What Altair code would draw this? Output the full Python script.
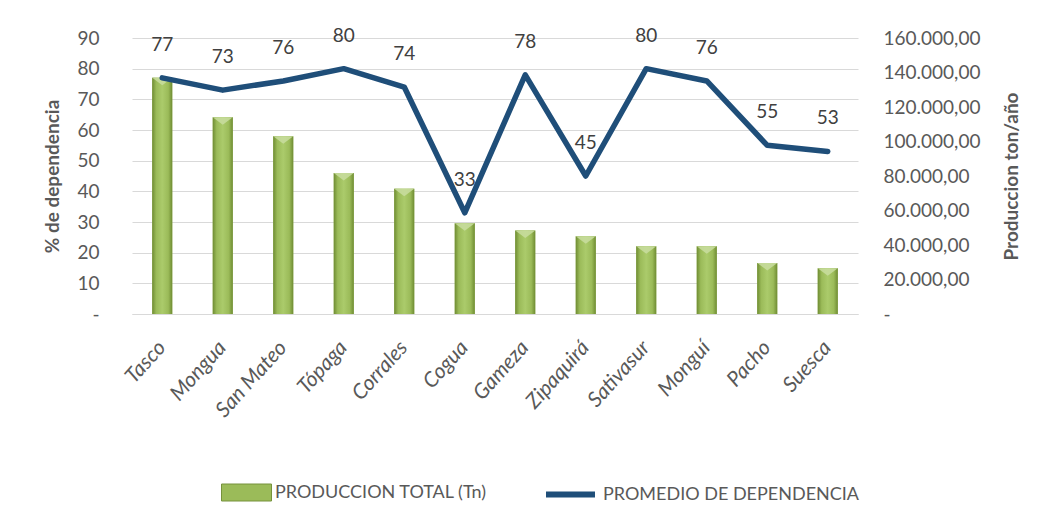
import altair as alt
import pandas as pd

municipios = ["Tasco", "Mongua", "San Mateo", "Tópaga", "Corrales", "Cogua",
              "Gameza", "Zipaquirá", "Sativasur", "Monguí", "Pacho", "Suesca"]
produccion = [137000, 114000, 103000, 81700, 72600, 52600,
              48400, 45100, 39300, 39300, 29600, 26500]
dependencia = [77, 73, 76, 80, 74, 33, 78, 45, 80, 76, 55, 53]

BAR_LEG = "PRODUCCION  TOTAL (Tn)"
LINE_LEG = "PROMEDIO DE DEPENDENCIA"

df = pd.DataFrame({"mun": municipios, "prod": produccion, "dep": dependencia})
df["s_bar"] = BAR_LEG
df["s_line"] = LINE_LEG

FONT = "Lato"
GRAY = "#595959"

x_enc = alt.X("mun:N", sort=municipios, title=None,
              scale=alt.Scale(paddingInner=0, paddingOuter=0),
              axis=alt.Axis(labelAngle=-48, labelFontStyle="italic", labelFont=FONT,
                            labelFontSize=21, labelColor=GRAY, ticks=False,
                            domainColor="#D9D9D9", labelPadding=30, labelAlign="right",
                            labelBaseline="middle"))

right_expr = ("datum.value == 0 ? '-' : replace(replace(replace(format(datum.value, ',.2f'),"
              " ',', '#'), '.', ','), '#', '.')")

y_prod = alt.Y("prod:Q", scale=alt.Scale(domain=[0, 160000], nice=False),
               axis=alt.Axis(orient="right", values=list(range(0, 160001, 20000)),
                             title="Produccion ton/año", titleAngle=270,
                             titleFont=FONT, titleFontSize=19, titleColor=GRAY,
                             titleFontWeight="bold", titlePadding=42,
                             labelFont=FONT, labelFontSize=19, labelColor=GRAY,
                             labelPadding=25, labelExpr=right_expr,
                             grid=False, domain=False, ticks=False))

grad = alt.Gradient(gradient="linear", x1=0, x2=1, y1=0, y2=0,
                    stops=[alt.GradientStop(color="#6F8C33", offset=0),
                           alt.GradientStop(color="#9BBB59", offset=0.2),
                           alt.GradientStop(color="#ABCB6B", offset=0.5),
                           alt.GradientStop(color="#9BBB59", offset=0.8),
                           alt.GradientStop(color="#6F8C33", offset=1)])

bars_base = alt.Chart(df).mark_bar(size=20).encode(
    x=x_enc,
    y=y_prod,
    fill=alt.Fill("s_bar:N", scale=alt.Scale(range=["#9BBB59"]),
                  legend=alt.Legend(title=None, orient="none", legendX=89, legendY=429,
                                    symbolType="M-1,-0.34H1V0.34H-1Z", symbolSize=2500,
                                    symbolStrokeColor="#76923C", symbolStrokeWidth=1,
                                    symbolOpacity=1, labelLimit=400,
                                    labelFont=FONT, labelFontSize=18, labelColor=GRAY,
                                    labelOffset=3)),
)
bars_grad = alt.Chart(df).mark_bar(size=20, fill=grad).encode(
    x=x_enc,
    y=y_prod,
)
bevel = alt.Chart(df).mark_point(shape="M-1,0L1,0L0,0.75Z", size=400, filled=True,
                                 color="#C9DDA0", opacity=0.85, strokeWidth=0).encode(
    x=x_enc,
    y=y_prod,
)
bars = alt.layer(bars_base, bars_grad, bevel)

y_dep = alt.Y("dep:Q", scale=alt.Scale(domain=[0, 90], nice=False),
              axis=alt.Axis(orient="left", values=list(range(0, 91, 10)),
                            title="% de dependencia", titleFont=FONT, titleFontSize=19,
                            titleColor=GRAY, titleFontWeight="bold", titlePadding=14,
                            labelFont=FONT, labelFontSize=19, labelColor=GRAY,
                            labelPadding=33,
                            labelExpr="datum.value == 0 ? '-' : datum.label",
                            grid=True, gridColor="#D9D9D9", gridWidth=1,
                            domain=False, ticks=False))

line = alt.Chart(df).mark_line(strokeWidth=5.5, strokeCap="round", strokeJoin="round").encode(
    x=x_enc,
    y=y_dep,
    stroke=alt.Stroke("s_line:N", scale=alt.Scale(range=["#1F4E79"]),
                      legend=alt.Legend(title=None, orient="none", legendX=411, legendY=429,
                                        symbolType="stroke", symbolSize=2400,
                                        symbolStrokeWidth=6, labelLimit=400,
                                        labelFont=FONT, labelFontSize=18, labelColor=GRAY,
                                        labelOffset=5)),
)
labels = alt.Chart(df).mark_text(dy=-33, fontSize=19, font=FONT, color="#404040").encode(
    x=x_enc,
    y=y_dep,
    text=alt.Text("dep:Q"),
)
lines = alt.layer(line, labels)

chart = alt.layer(bars, lines).resolve_scale(y="independent").properties(
    width=726, height=276,
    autosize=alt.AutoSizeParams(type="none"),
    padding={"left": 124, "top": 30, "right": 194, "bottom": 190},
).configure_view(stroke=None)

chart.save("out.html", embed_options={"renderer": "svg", "actions": False})
